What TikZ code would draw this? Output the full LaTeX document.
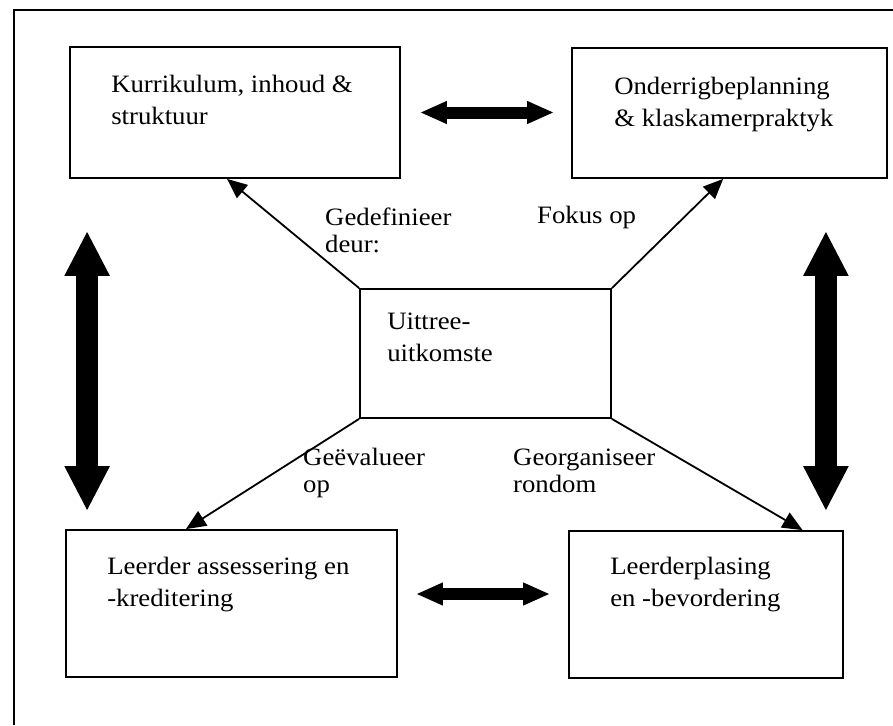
\documentclass[tikz,border=0pt]{standalone}
\usepackage{fontspec}
\setmainfont{Liberation Serif}[FakeStretch=1.07]
\usetikzlibrary{arrows.meta,calc}
% two lines of text whose reference point is the first baseline
\newcommand\stackedtext[2]{\vtop{\hbox{#1}\hbox{#2}}}

\begin{document}
\begin{tikzpicture}[x=1pt,y=-1pt,
  box/.style={draw, line width=1.8pt, inner sep=0pt},
  boxtext/.style={anchor=base west, inner sep=0pt, font=\fontsize{25}{32}\selectfont},
  edgelabel/.style={anchor=base west, inner sep=0pt, font=\fontsize{25}{27}\selectfont},
  link/.style={line width=1.8pt, -{Triangle[length=20pt,width=17pt]}},
  wideflow/.style={line width=12pt, {Triangle[length=27pt,width=21pt]}-{Triangle[length=27pt,width=21pt]}},
  tallflow/.style={line width=22pt, {Triangle[length=45pt,width=42pt]}-{Triangle[length=45pt,width=42pt]}},
]
\useasboundingbox (0,0) rectangle (893,725);

% frame
\draw[line width=1.6pt] (14,725) -- (14,10) -- (893,10);

% boxes
\node[box, minimum width=330pt, minimum height=131pt] (tl) at (235,112.5) {};
\node[box, minimum width=315pt, minimum height=130pt] (tr) at (729.5,113) {};
\node[box, minimum width=251pt, minimum height=129pt] (c)  at (485.5,353.5) {};
\node[box, minimum width=331pt, minimum height=147pt] (bl) at (231.5,603.5) {};
\node[box, minimum width=274pt, minimum height=147pt] (br) at (706,604.5) {};

% box texts
\node[boxtext] (tltext) at ($(tl.north west)+(42,46)$) {\stackedtext{Kurrikulum, inhoud \&}{struktuur}};
\node[boxtext] (trtext) at ($(tr.north west)+(43,47)$) {\stackedtext{Onderrigbeplanning}{\& klaskamerpraktyk}};
\node[boxtext] (ctext)  at ($(c.north west)+(28,41)$) {\stackedtext{Uittree-}{uitkomste}};
\node[boxtext] (bltext) at ($(bl.north west)+(42,45)$) {\stackedtext{Leerder assessering en}{-kreditering}};
\node[boxtext] (brtext) at ($(br.north west)+(42,44)$) {\stackedtext{Leerderplasing}{en -bevordering}};

% links from the centre box
\draw[link] (c.north west) -- ($(tl.south west)!0.476!(tl.south east)$);
\draw[link] (c.north east) -- ($(tr.south west)!0.48!(tr.south east)$);
\draw[link] (c.south west) -- ($(bl.north west)!0.363!(bl.north east)$);
\draw[link] (c.south east) -- ($(br.north west)!0.85!(br.north east)$);

% link labels
\node[edgelabel] (lbtl) at (325,225) {\stackedtext{Gedefinieer}{deur:}};
\node[edgelabel] (lbtr) at (537,223) {Fokus op};
\node[edgelabel] (lbbl) at (303,465) {\stackedtext{Geëvalueer}{op}};
\node[edgelabel] (lbbr) at (513,465) {\stackedtext{Georganiseer}{rondom}};

% two-way arrows between the outer boxes
\draw[wideflow] ($(tl.east)+(19,0)$) -- ($(tl.east -| tr.west)+(-17,0)$);
\draw[wideflow] ($(bl.east)+(18,-9.5)$) -- ($(bl.east -| br.west)+(-18,-9.5)$);
\draw[tallflow] ($(tl.south west)+(18,52)$) -- ($(bl.north west)+(22,-18)$);
\draw[tallflow] ($(tr.south east)+(-62,52)$) -- ($(br.north east)+(-18,-19)$);
\end{tikzpicture}
\end{document}
